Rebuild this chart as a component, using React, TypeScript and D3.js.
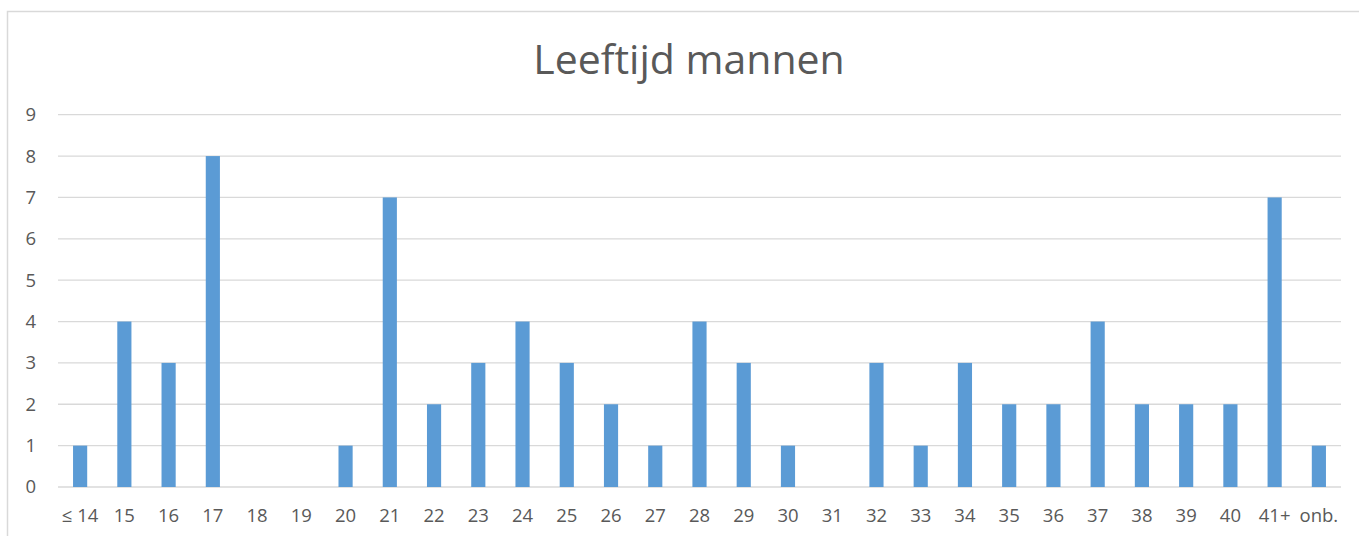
import React from "react";
import * as d3 from "d3";

const categories = ["≤ 14", "15", "16", "17", "18", "19", "20", "21", "22", "23", "24", "25", "26", "27", "28", "29", "30", "31", "32", "33", "34", "35", "36", "37", "38", "39", "40", "41+", "onb."];
const values = [1, 4, 3, 8, 0, 0, 1, 7, 2, 3, 4, 3, 2, 1, 4, 3, 1, 0, 3, 1, 3, 2, 2, 4, 2, 2, 2, 7, 1];
const yTicks = [0, 1, 2, 3, 4, 5, 6, 7, 8, 9];

const W = 1359;
const H = 536;
const font = "'Open Sans', 'Noto Sans', sans-serif";

export default function App() {
  const left = 58, right = 1341, top = 114.7, bottom = 487;

  const x = d3.scaleBand().domain(categories).range([left, right]).paddingInner(0.68).paddingOuter(0.34);
  const y = d3.scaleLinear().domain([0, 9]).range([bottom, top]);

  return (
    <svg width={W} height={H} style={{ position: "absolute", left: 0, top: 0 }}>
      <rect x={0} y={0} width={W} height={H} fill="#fff" />
      <rect x={7.5} y={11.5} width={W + 10} height={H + 10} fill="none" stroke="#d9d9d9" strokeWidth={1.5} />
      <text x={689} y={74} textAnchor="middle" fontFamily={font} fontSize={41} fill="#595959">
        Leeftijd mannen
      </text>
      {yTicks.map((t) => (
        <g key={t}>
          <line x1={left} x2={right} y1={y(t)} y2={y(t)} stroke="#d9d9d9" strokeWidth={1.3} />
          <text x={36} y={y(t)} dy="0.35em" textAnchor="end" fontFamily={font} fontSize={18.5} fill="#595959">
            {t}
          </text>
        </g>
      ))}
      {values.map((v, i) => (
        <rect key={i} x={x(categories[i])} y={y(v)} width={x.bandwidth()} height={bottom - y(v)} fill="#5b9bd5" />
      ))}
      {categories.map((c) => (
        <text key={c} x={(x(c) as number) + x.bandwidth() / 2} y={522} textAnchor="middle" fontFamily={font} fontSize={18.5} fill="#595959">
          {c}
        </text>
      ))}
    </svg>
  );
}
